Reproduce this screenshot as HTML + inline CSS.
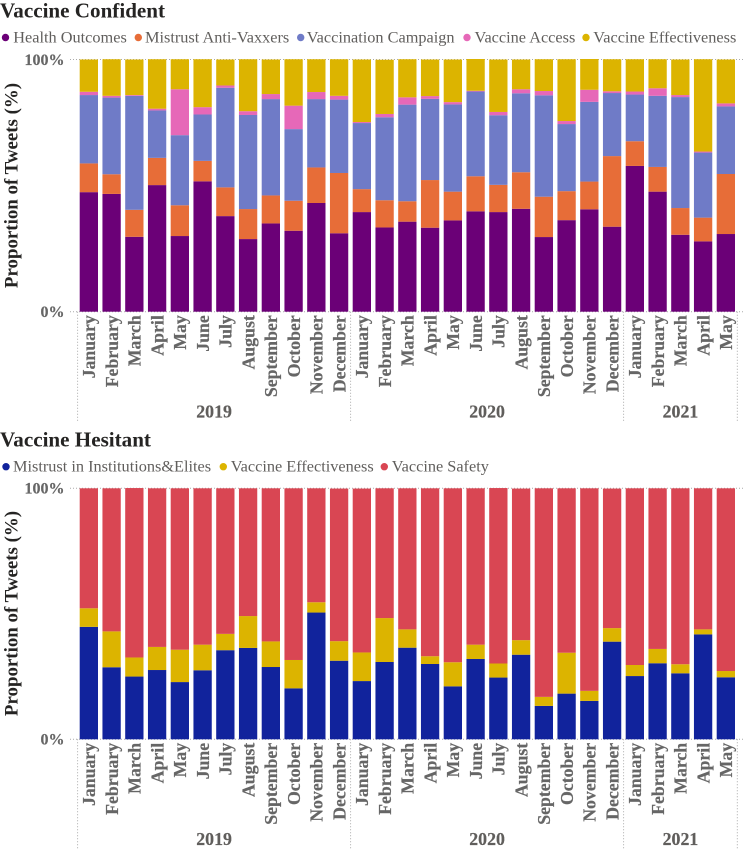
<!DOCTYPE html>
<html lang="en">
<head>
<meta charset="utf-8">
<title>Vaccine Confident and Vaccine Hesitant tweets</title>
<style>
html,body{margin:0;padding:0;background:#fff;width:743px;height:851px;overflow:hidden}
svg{display:block}
text{font-family:"Liberation Serif",serif}
.title{font-size:21.1px;font-weight:bold;fill:#252423}
.legend{font-size:16.3px;fill:#605e5c}
.tick{font-size:16px;font-weight:bold;fill:#666;text-anchor:end;stroke:#666;stroke-width:.2px}
.axis-title{font-size:18.9px;font-weight:bold;fill:#252423;text-anchor:middle}
.month{font-size:17.8px;font-weight:bold;fill:#666;text-anchor:end;stroke:#666;stroke-width:.2px}
.year{font-size:17.8px;font-weight:bold;fill:#605e5c;text-anchor:middle;stroke:#605e5c;stroke-width:.2px}
</style>
</head>
<body>
<svg id="chart" xmlns="http://www.w3.org/2000/svg" width="743" height="851" viewBox="0 0 743 851">
  <text class="title" x="0" y="17.5">Vaccine Confident</text>
  <g>
    <circle cx="5.5" cy="37.5" r="3.7" fill="#6b0077"/>
    <text class="legend" x="13.3" y="42.5">Health Outcomes</text>
    <circle cx="138.3" cy="37.5" r="3.7" fill="#e76d38"/>
    <text class="legend" x="145" y="42.5">Mistrust Anti-Vaxxers</text>
    <circle cx="300.7" cy="37.5" r="3.7" fill="#6f7bc7"/>
    <text class="legend" x="306.7" y="42.5">Vaccination Campaign</text>
    <circle cx="467" cy="37.5" r="3.7" fill="#e668b8"/>
    <text class="legend" x="474.5" y="42.5">Vaccine Access</text>
    <circle cx="586" cy="37.5" r="3.7" fill="#dcb400"/>
    <text class="legend" x="593.3" y="42.5">Vaccine Effectiveness</text>
  </g>
  <text class="title" x="0" y="446.7">Vaccine Hesitant</text>
  <g>
    <circle cx="6" cy="466.7" r="3.7" fill="#11239c"/>
    <text class="legend" x="13" y="471.5">Mistrust in Institutions&amp;Elites</text>
    <circle cx="223.3" cy="466.7" r="3.7" fill="#dcb400"/>
    <text class="legend" x="230.7" y="471.5">Vaccine Effectiveness</text>
    <circle cx="384.3" cy="466.7" r="3.7" fill="#d94653"/>
    <text class="legend" x="391.7" y="471.5">Vaccine Safety</text>
  </g>
</svg>
<script>
const months = ["January","February","March","April","May","June","July","August","September","October","November","December","January","February","March","April","May","June","July","August","September","October","November","December","January","February","March","April","May"];
const yearLabels = ["2019","2020","2021"];
const yearMonthCounts = [12,12,5];
const yTickValues = [0,100];
const yTickLabels = ["0%","100%"];

const healthOutcomes = [47.4,46.7,29.7,50.2,30.0,51.7,37.9,28.8,35.0,32.1,43.1,31.1,39.5,33.4,35.7,33.3,36.2,39.8,39.5,40.8,29.6,36.3,40.6,33.7,57.8,47.6,30.5,27.9,30.8];
const mistrustAntiVaxxers = [11.4,7.8,10.7,10.8,12.2,8.1,11.4,11.9,11.1,11.9,14.1,23.9,9.1,10.8,8.1,18.9,11.4,13.9,10.8,14.5,16.0,11.5,11.0,28.0,9.8,9.8,10.6,9.4,23.8];
const vaccinationCampaign = [27.1,30.4,45.2,18.8,27.8,18.4,39.5,37.3,38.2,28.4,27.1,29.1,26.2,32.9,38.3,32.2,34.6,33.6,27.6,31.3,40.2,26.6,31.6,25.0,18.5,28.2,44.0,25.8,26.8];
const vaccineAccess = [1.3,0.7,0.3,0.7,18.2,2.9,0.9,1.5,2.0,9.3,2.8,1.5,0.4,1.3,2.9,1.1,0.9,0.3,1.3,1.6,1.7,1.2,4.8,0.7,1.2,3.0,0.8,0.4,1.2];
const confidentEffectiveness = [12.8,14.5,14.1,19.6,11.9,19.0,10.3,20.6,13.7,18.4,13.0,14.5,24.8,21.5,15.1,14.5,16.9,12.6,20.8,11.8,12.6,24.5,12.2,12.7,12.8,11.5,14.1,36.6,17.4];

const mistrustInstitutions = [44.8,28.7,25.0,27.6,22.8,27.5,35.5,36.4,28.8,20.3,50.5,31.3,23.2,30.8,36.5,30.0,21.1,32.0,24.6,33.7,13.3,18.2,15.3,38.9,25.2,30.3,26.3,41.8,24.7];
const hesitantEffectiveness = [7.4,14.3,7.6,9.2,12.9,10.2,6.5,12.7,10.2,11.3,4.1,7.8,11.4,17.5,7.3,3.1,9.6,5.7,5.6,5.8,3.6,16.3,4.0,5.4,4.4,5.7,3.6,2.0,2.5];
const vaccineSafety = [47.8,57.0,67.5,63.2,64.3,62.3,58.0,50.9,61.0,68.4,45.4,60.8,65.3,51.7,56.2,66.9,69.3,62.3,69.9,60.4,83.1,65.5,80.7,55.6,70.4,64.0,70.1,56.2,72.8];

const NS = "http://www.w3.org/2000/svg";
const svg = document.getElementById("chart");
const BAR_START = 79.7, BAR_PITCH = 22.75, BAR_WIDTH = 18.3;

function xBand(i){ return BAR_START + i * BAR_PITCH; }
function yScaleFor(top, bottom){ return function(v){ return bottom - (v / 100) * (bottom - top); }; }
function make(tag, attrs, parent){
  const el = document.createElementNS(NS, tag);
  for (const k in attrs) el.setAttribute(k, attrs[k]);
  parent.appendChild(el);
  return el;
}

function drawPanel(cfg){
  const y = yScaleFor(cfg.top, cfg.bottom);
  const panel = make("g", {}, svg);
  
  

  yTickValues.forEach(function(v, t){
    const grid = make("line", {x1:70, x2:743, y1:y(v), y2:y(v), stroke:"#aaa", "stroke-width":1, "stroke-dasharray":"1 2"}, panel);
    
    
    const label = make("text", {class:"tick", x:64.5, y:y(v) + 5.4}, panel);
    label.textContent = yTickLabels[t];
    
    
  });

  const axisTitle = make("text", {class:"axis-title", transform:"translate(17.5," + cfg.titleY + ") rotate(-90)"}, panel);
  axisTitle.textContent = "Proportion of Tweets (%)";
  
  

  months.forEach(function(m, i){
    let cum = 0;
    cfg.series.forEach(function(s){
      const v = s.values[i];
      const y0 = y(cum), y1 = y(cum + v);
      const bar = make("rect", {x:xBand(i), y:y1, width:BAR_WIDTH, height:y0 - y1, fill:s.color}, panel);
      
      
      cum += v;
    });
    const label = make("text", {class:"month", transform:"translate(" + (xBand(i) + BAR_WIDTH / 2 + 6.2) + "," + (cfg.bottom + 3.5) + ") rotate(-90)"}, panel);
    label.textContent = m;
    
    
  });

  let start = 0;
  const sepX = function(idx){ return xBand(idx) - (BAR_PITCH - BAR_WIDTH) / 2 + 0.1; };
  yearLabels.forEach(function(yr, k){
    const end = start + yearMonthCounts[k];
    const sep = make("line", {x1:sepX(start), x2:sepX(start), y1:cfg.bottom, y2:cfg.sepEnd, stroke:"#aaa", "stroke-width":1, "stroke-dasharray":"1 2"}, panel);
    
    
    const label = make("text", {class:"year", x:(sepX(start) + sepX(end)) / 2, y:cfg.yearY}, panel);
    label.textContent = yr;
    
    
    start = end;
  });
  const last = make("line", {x1:sepX(start), x2:sepX(start), y1:cfg.bottom, y2:cfg.sepEnd, stroke:"#aaa", "stroke-width":1, "stroke-dasharray":"1 2"}, panel);
  
  
}

drawPanel({
  key:"vaccine-confident", top:59.5, bottom:311.7, titleY:185.5, yearY:417.3, sepEnd:421,
  series:[
    {values:healthOutcomes, color:"#6b0077"},
    {values:mistrustAntiVaxxers, color:"#e76d38"},
    {values:vaccinationCampaign, color:"#6f7bc7"},
    {values:vaccineAccess, color:"#e668b8"},
    {values:confidentEffectiveness, color:"#dcb400"}
  ]
});
drawPanel({
  key:"vaccine-hesitant", top:488.3, bottom:739.3, titleY:613.5, yearY:845, sepEnd:849,
  series:[
    {values:mistrustInstitutions, color:"#11239c"},
    {values:hesitantEffectiveness, color:"#dcb400"},
    {values:vaccineSafety, color:"#d94653"}
  ]
});
</script>
</body>
</html>
